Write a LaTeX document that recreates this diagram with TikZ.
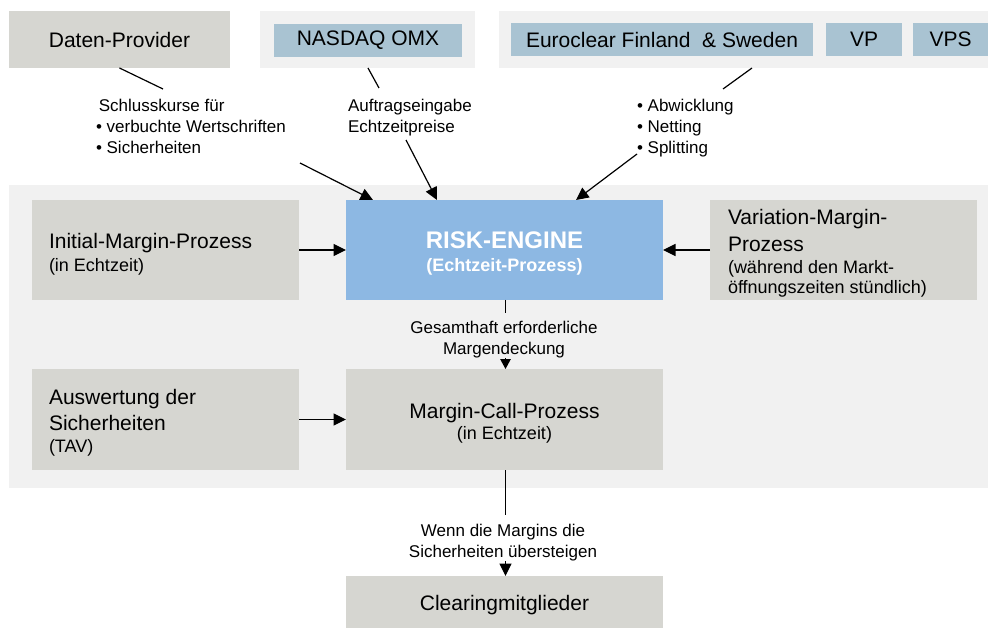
\documentclass[tikz,border=0pt]{standalone}
\usepackage{fontspec}
\setmainfont{Liberation Sans}
\usetikzlibrary{arrows.meta}

\definecolor{panel}{HTML}{F1F1F1}
\definecolor{boxgray}{HTML}{D6D6D1}
\definecolor{tagblue}{HTML}{A9C3D2}
\definecolor{engineblue}{HTML}{8DB8E3}
\newcommand{\smalltext}{\fontsize{18}{20}\selectfont}

\begin{document}
\begin{tikzpicture}[x=1pt,y=-1pt,
  every node/.style={inner sep=0pt,outer sep=0pt},
  panelbox/.style={fill=panel,anchor=north west},
  graybox/.style={fill=boxgray,anchor=north west,font=\fontsize{21}{25}\selectfont},
  tagbox/.style={fill=tagblue,anchor=north west,font=\fontsize{21}{25}\selectfont},
  boxtext/.style={font=\fontsize{21}{25}\selectfont,align=left,anchor=west},
  lbl/.style={font=\fontsize{17}{21}\selectfont,align=left},
  clbl/.style={font=\fontsize{17}{21}\selectfont,align=center},
  link/.style={line width=1.2pt},
  flow/.style={line width=1.2pt,-{Triangle[length=12.5pt,width=12pt]}},
  shortflow/.style={line width=1.2pt,-{Triangle[length=10pt,width=10.5pt]}}
]
\useasboundingbox (0,0) rectangle (988,628);

% background panels
\node[panelbox,minimum width=215pt,minimum height=57pt] (nqpanel) at (260,11) {};
\node[panelbox,minimum width=489pt,minimum height=57pt] (ecpanel) at (499,11) {};
\node[panelbox,minimum width=979pt,minimum height=303pt] (core) at (9,185) {};

% top row sources
\node[graybox,minimum width=221pt,minimum height=57pt] (dp) at (9,11) {Daten-Provider};
\node[tagbox,minimum width=188pt,minimum height=33pt] (nq) at (274,24) {NASDAQ OMX};
\node[tagbox,minimum width=302pt,minimum height=33pt] (ec) at (511,23) {Euroclear Finland \ \& Sweden};
\node[tagbox,minimum width=76pt,minimum height=33pt] (vp) at (826,23) {VP};
\node[tagbox,minimum width=75pt,minimum height=33pt] (vps) at (913,23) {VPS};

% process boxes
\node[graybox,minimum width=267pt,minimum height=100pt] (im) at (32,200) {};
\node[fill=engineblue,anchor=north west,minimum width=317pt,minimum height=100pt] (re) at (346,200) {};
\node[graybox,minimum width=267pt,minimum height=100pt] (vm) at (710,200) {};
\node[graybox,minimum width=267pt,minimum height=101pt] (tav) at (32,369) {};
\node[graybox,minimum width=317pt,minimum height=101pt] (mc) at (346,369) {};
\node[graybox,minimum width=317pt,minimum height=58pt] (cm) at (346,576) {Clearingmitglieder};

% box texts
\node[boxtext] (imt) at ([xshift=17pt,yshift=-4pt]im.west)
  {Initial-Margin-Prozess\\[-2pt]\smalltext (in Echtzeit)};
\node[align=center,text=white,font=\bfseries\fontsize{24}{25}\selectfont] (ret)
  at ([yshift=-3.5pt]re.center)
  {RISK-ENGINE\\[-2pt]\fontsize{18}{20}\selectfont (Echtzeit-Prozess)};
\node[boxtext] (vmt) at ([xshift=18pt,yshift=-3pt]vm.west)
  {Variation-Margin-\\[2pt]Prozess\\[-3pt]\smalltext (während den Markt-\\[-5pt]\smalltext öffnungszeiten stündlich)};
\node[boxtext] (tavt) at ([xshift=17pt,yshift=-3.5pt]tav.west)
  {Auswertung der\\[1pt]Sicherheiten\\[-3pt]\smalltext (TAV)};
\node[boxtext,align=center,anchor=center] (mct) at ([yshift=-3.5pt]mc.center)
  {Margin-Call-Prozess\\[-4pt]\smalltext (in Echtzeit)};

% connector labels
\node[lbl,anchor=north west] (dplab) at (96,99)
  {\,Schlusskurse für\\• verbuchte Wertschriften\\• Sicherheiten};
\node[lbl,anchor=north west] (nqlab) at (348,99) {Auftragseingabe\\Echtzeitpreise};
\node[lbl,anchor=north west] (eclab) at (637,99) {• Abwicklung\\• Netting\\• Splitting};
\node[clbl] (relab) at (504,340) {Gesamthaft erforderliche\\Margendeckung};
\node[clbl] (mclab) at (503,543) {Wenn die Margins die\\Sicherheiten übersteigen};

% connector waypoints
\coordinate (dpA) at (163,89);
\coordinate (dpB) at (300,163);
\coordinate (dpT) at (373,200);
\coordinate (nqS) at (368,68);
\coordinate (nqA) at (379,88);
\coordinate (nqB) at (406,140);
\coordinate (nqT) at (437,200);
\coordinate (ecS) at (752,68);
\coordinate (ecA) at (723,89);
\coordinate (ecB) at (637,154);
\coordinate (ecT) at (576,200);
\coordinate (reA) at (505.5,313);
\coordinate (reB) at (505.5,358);
\coordinate (reT) at (505.5,369);
\coordinate (mcS) at (505.5,470);
\coordinate (mcA) at (505.5,515);
\coordinate (mcB) at (505.5,561);
\coordinate (mcT) at (505.5,576);

% inputs into the risk engine
\draw[link] (dp.south) -- (dpA);
\draw[flow] (dpB) -- (dpT);
\draw[link] (nqS) -- (nqA);
\draw[flow] (nqB) -- (nqT);
\draw[link] (ecS) -- (ecA);
\draw[flow] (ecB) -- (ecT);
\draw[flow] (im.east) -- (re.west);
\draw[flow] (vm.west) -- (re.east);
\draw[flow] (tav.east) -- (mc.west);

% risk engine to margin call to clearing members
\draw[link] (reA |- re.south) -- (reA);
\draw[shortflow] (reB) -- (reT);
\draw[link] (mcS) -- (mcA);
\draw[flow] (mcB) -- (mcT);
\end{tikzpicture}
\end{document}
